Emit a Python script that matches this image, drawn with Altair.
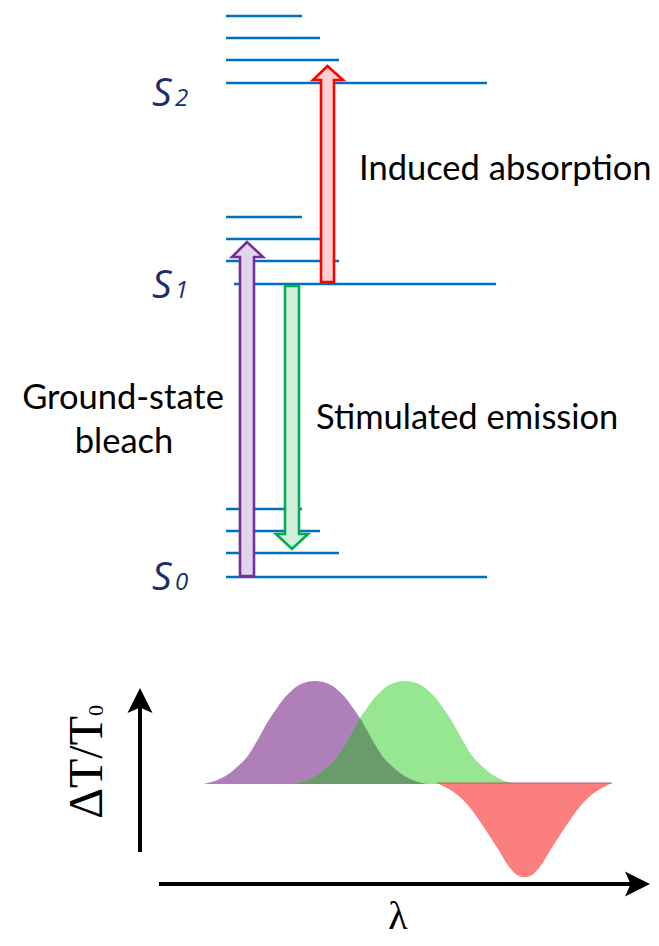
import altair as alt
import pandas as pd

# ---------------- data (page-pixel coordinates) ----------------
# energy levels: y position, left end, right end
level_y  = [16, 38, 60, 83, 217, 239, 261, 284, 509, 531, 553, 577]
level_x0 = [226, 226, 226, 226, 226, 226, 226, 234, 226, 226, 226, 226]
level_x1 = [302, 320, 339, 487, 302, 320, 339, 496, 302, 320, 339, 487]

# state labels
state_sub = ["2", "1", "0"]
state_baseline = [106, 298, 590]

# block arrows: (y, left, right) outline profile
arrow_names = ["bleach", "emission", "absorption"]
arrow_y  = {"absorption": [66, 80, 80.01, 282],
            "bleach":     [242, 257, 257.01, 576],
            "emission":   [286, 534, 534.01, 549]}
arrow_xl = {"absorption": [327.5, 313, 321, 321],
            "bleach":     [247, 232, 240, 240],
            "emission":   [285, 285, 276, 292]}
arrow_xr = {"absorption": [327.5, 343, 334, 334],
            "bleach":     [247, 263, 254, 254],
            "emission":   [299, 299, 308, 292]}
arrow_fill = {"absorption": "#fdd0d3", "bleach": "#e1d5ec", "emission": "#d2f0dc"}
arrow_stroke = {"absorption": "#ff0000", "bleach": "#7030a0", "emission": "#00b050"}

# transient spectra (x, height above/below the baseline)
gsb_x = [203, 215, 227, 237, 247, 257, 267, 277, 287, 301, 315, 329, 343, 353, 363, 373, 383, 393, 403, 415, 427]
gsb_h = [0, 3, 9, 17, 27, 43, 61, 76, 89, 100, 103, 100, 89, 76, 61, 43, 27, 17, 9, 3, 0]
se_x = [293, 305, 317, 327, 337, 347, 357, 367, 377, 391, 405, 419, 433, 443, 453, 463, 473, 483, 493, 505, 517]
se_h = [0, 3, 9, 17, 27, 43, 61, 76, 89, 100, 103, 100, 89, 76, 61, 43, 27, 17, 9, 3, 0]
ia_x = [437, 445, 455, 465, 474, 485, 498, 510, 518, 524.5, 531, 539, 551, 564, 575, 584, 594, 604, 612]
ia_d = [0, 4, 10, 19, 30, 46, 66, 85, 92.5, 94, 92.5, 85, 66, 46, 30, 19, 10, 4, 0]
spec_base = 784
cross_x, cross_h = 360, 65.5

# ---------------- scales ----------------
W, H = 643, 930
xs = alt.Scale(domain=[8, 8 + W], nice=False, zero=False)
ys = alt.Scale(domain=[8 + H, 8], nice=False, zero=False)


def X(f, **k):
    return alt.X(f, type="quantitative", scale=xs, axis=None, **k)


def Y(f, **k):
    return alt.Y(f, type="quantitative", scale=ys, axis=None, **k)


layers = []

# energy levels
lv = pd.DataFrame({"y": level_y, "x0": level_x0, "x1": level_x1})
layers.append(alt.Chart(lv).mark_rule(color="#0070c0", strokeWidth=2.6).encode(
    x=X("x0"), x2="x1", y=Y("y")))

# block arrows
for name in arrow_names:
    d = pd.DataFrame({"y": arrow_y[name], "xl": arrow_xl[name], "xr": arrow_xr[name]})
    layers.append(alt.Chart(d).mark_area(
        orient="horizontal", fill=arrow_fill[name], stroke=arrow_stroke[name],
        strokeWidth=2.6, strokeJoin="miter", interpolate="linear").encode(
        y=Y("y"), x=X("xl"), x2="xr"))

# state labels
st = pd.DataFrame({"sub": state_sub, "y": state_baseline, "S": ["S"] * 3})
layers.append(alt.Chart(st).mark_text(
    align="left", baseline="alphabetic", font="Open Sans", fontStyle="italic",
    fontSize=39, color="#182f68").encode(
    x=alt.value(152 - 8), y=Y("y"), text="S"))
layers.append(alt.Chart(st).mark_text(
    align="left", baseline="alphabetic", font="Open Sans", fontStyle="italic",
    fontSize=24, color="#182f68").encode(
    x=alt.value(175 - 8), y=Y("y"), text="sub"))

# process labels
lab = pd.DataFrame({
    "t": ["Induced absorption", "Stimulated emission", "Ground-state", "bleach"],
    "x": [359, 316, 123, 124],
    "y": [180, 429, 409, 453],
    "a": ["left", "left", "center", "center"],
})
for a in ["left", "center"]:
    layers.append(alt.Chart(lab[lab.a == a]).mark_text(
        align=a, baseline="alphabetic", font="Lato", fontSize=34.5, color="#000000").encode(
        x=X("x"), y=Y("y"), text="t"))

# spectra
g = pd.DataFrame({"x": gsb_x, "y": [spec_base - h for h in gsb_h], "b": spec_base})
s = pd.DataFrame({"x": se_x, "y": [spec_base - h for h in se_h], "b": spec_base})
ov = pd.concat([
    s[s.x < cross_x],
    pd.DataFrame({"x": [cross_x], "y": [spec_base - cross_h], "b": [spec_base]}),
    g[g.x > cross_x],
])
r = pd.DataFrame({"x": ia_x, "y": [spec_base - 1 + dd for dd in ia_d], "b": spec_base - 1})
for df, col in [(g, "#ae7fb8"), (s, "#96e692"), (ov, "#6a9c6b"), (r, "#fc7f7f")]:
    layers.append(alt.Chart(df).mark_area(color=col, interpolate="catmull-rom").encode(
        x=X("x"), y=Y("y"), y2="b"))
# thin dark edge along the top of the induced-absorption band
rt = pd.DataFrame({"y": [spec_base - 1], "x0": [ia_x[0]], "x1": [ia_x[-1]]})
layers.append(alt.Chart(rt).mark_rule(color="#b05a5a", strokeWidth=1).encode(
    y=Y("y"), x=X("x0"), x2="x1"))

# axes of the spectrum panel
ax = pd.DataFrame({"x": [140], "y0": [852], "y1": [702]})
layers.append(alt.Chart(ax).mark_rule(color="black", strokeWidth=4).encode(
    x=X("x"), y=Y("y0"), y2="y1"))
axh = pd.DataFrame({"y": [884], "x0": [159], "x1": [640]})
layers.append(alt.Chart(axh).mark_rule(color="black", strokeWidth=4).encode(
    y=Y("y"), x=X("x0"), x2="x1"))
head = "M0,-1L1,1L0,0.55L-1,1Z"
heads = pd.DataFrame({"x": [140, 637.5], "y": [700.5, 884], "ang": [0, 90]})
layers.append(alt.Chart(heads).mark_point(
    shape=head, filled=True, color="black", opacity=1, size=625).encode(
    x=X("x"), y=Y("y"), angle=alt.Angle("ang:Q", scale=None)))

# axis labels
yl = pd.DataFrame({"x": [102], "y": [716], "t": ["ΔT/T"]})
layers.append(alt.Chart(yl).mark_text(
    angle=270, align="right", baseline="alphabetic", font="Liberation Serif",
    fontSize=48, color="black").encode(x=X("x"), y=Y("y"), text="t"))
yl0 = pd.DataFrame({"x": [103], "y": [716], "t": ["0"]})
layers.append(alt.Chart(yl0).mark_text(
    angle=270, align="left", baseline="alphabetic", font="Liberation Serif",
    fontSize=22, color="black").encode(x=X("x"), y=Y("y"), text="t"))
xl = pd.DataFrame({"x": [398], "y": [929], "t": ["λ"]})
layers.append(alt.Chart(xl).mark_text(
    align="center", baseline="alphabetic", font="Liberation Serif",
    fontSize=40, color="black").encode(x=X("x"), y=Y("y"), text="t"))

chart = alt.layer(*layers).properties(
    width=W, height=H, autosize=alt.AutoSizeParams(type="none"), padding=0
).configure_view(stroke=None)

chart.save("out.html", embed_options={"renderer": "svg", "actions": False})
